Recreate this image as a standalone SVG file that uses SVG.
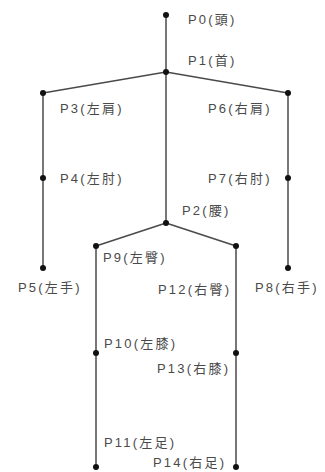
<svg xmlns="http://www.w3.org/2000/svg" width="325" height="472" viewBox="0 0 325 472">
<style>
.e{stroke:#4a4a4a;stroke-width:1.5;fill:none}
.d{fill:#111}
text{font-family:"Liberation Sans","Noto Sans CJK JP",sans-serif;font-size:13px;letter-spacing:2.2px;fill:#4a4a4a}
</style>
<rect width="325" height="472" fill="#fff"/>
<g id="connectors">
<line class="e" x1="166" y1="15" x2="166" y2="72"/>
<line class="e" x1="166" y1="72" x2="43" y2="93"/>
<line class="e" x1="166" y1="72" x2="288" y2="93"/>
<line class="e" x1="166" y1="72" x2="166" y2="223"/>
<line class="e" x1="43" y1="93" x2="43" y2="268"/>
<line class="e" x1="288" y1="93" x2="288" y2="268"/>
<line class="e" x1="166" y1="223" x2="96" y2="246"/>
<line class="e" x1="166" y1="223" x2="236" y2="246"/>
<line class="e" x1="96" y1="246" x2="96" y2="467"/>
<line class="e" x1="236" y1="246" x2="236" y2="467"/>
</g>
<g id="P0"><circle class="d" cx="166" cy="15" r="3"/><text x="188" y="24">P0(頭)</text></g>
<g id="P1"><circle class="d" cx="166" cy="72" r="3"/><text x="188" y="65">P1(首)</text></g>
<g id="P2"><circle class="d" cx="166" cy="223" r="3"/><text x="182" y="215">P2(腰)</text></g>
<g id="P3"><circle class="d" cx="43" cy="93" r="3"/><text x="60" y="113">P3(左肩)</text></g>
<g id="P4"><circle class="d" cx="43" cy="178" r="3"/><text x="60" y="183">P4(左肘)</text></g>
<g id="P5"><circle class="d" cx="43" cy="268" r="3"/><text x="18" y="292">P5(左手)</text></g>
<g id="P6"><circle class="d" cx="288" cy="93" r="3"/><text x="208" y="113">P6(右肩)</text></g>
<g id="P7"><circle class="d" cx="288" cy="178" r="3"/><text x="208" y="183">P7(右肘)</text></g>
<g id="P8"><circle class="d" cx="288" cy="268" r="3"/><text x="255" y="292">P8(右手)</text></g>
<g id="P9"><circle class="d" cx="96" cy="246" r="3"/><text x="103" y="262">P9(左臀)</text></g>
<g id="P10"><circle class="d" cx="96" cy="353" r="3"/><text x="104" y="348">P10(左膝)</text></g>
<g id="P11"><circle class="d" cx="96" cy="467" r="3"/><text x="104" y="447">P11(左足)</text></g>
<g id="P12"><circle class="d" cx="236" cy="246" r="3"/><text x="158" y="294">P12(右臀)</text></g>
<g id="P13"><circle class="d" cx="236" cy="353" r="3"/><text x="157" y="373">P13(右膝)</text></g>
<g id="P14"><circle class="d" cx="236" cy="467" r="3"/><text x="153" y="467">P14(右足)</text></g>
</svg>
